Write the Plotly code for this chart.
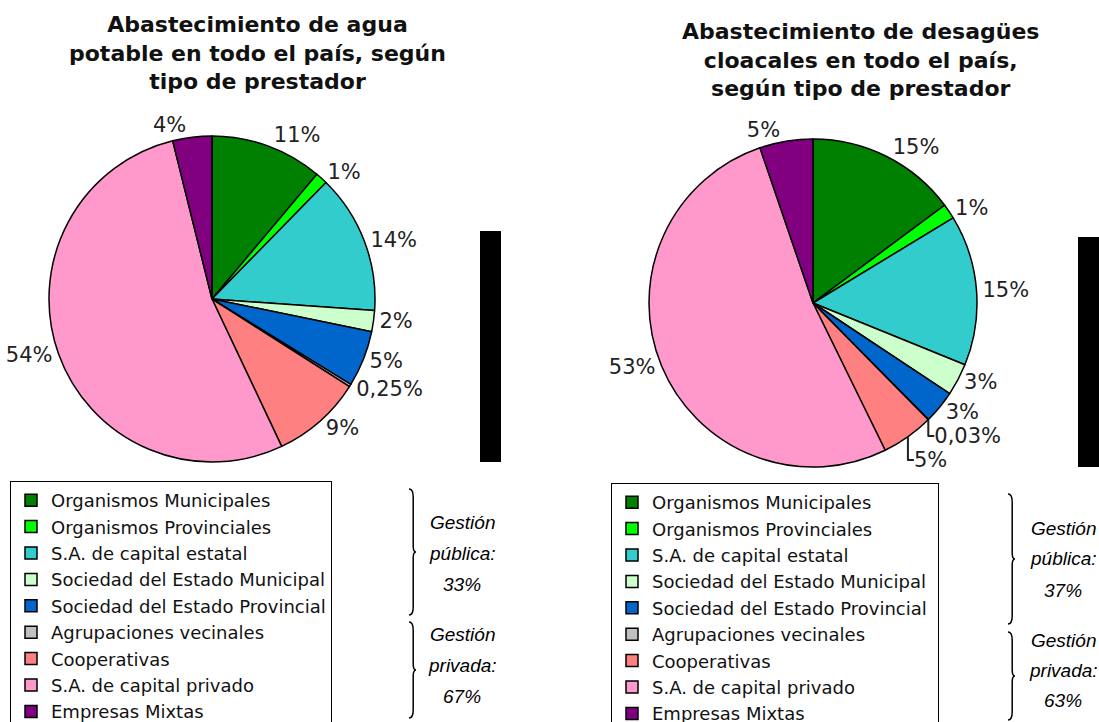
import plotly.graph_objects as go

W, H = 1099, 722

TIPOS = [
    "Organismos Municipales",
    "Organismos Provinciales",
    "S.A. de capital estatal",
    "Sociedad del Estado Municipal",
    "Sociedad del Estado Provincial",
    "Agrupaciones vecinales",
    "Cooperativas",
    "S.A. de capital privado",
    "Empresas Mixtas",
]
COLORES = ["#008000", "#00ff00", "#33cccc", "#ccffcc", "#0066cc",
           "#c0c0c0", "#ff8080", "#ff99cc", "#800080"]

# agua potable
AGUA_VALORES = [11.2, 1.2, 13.9, 2.1, 5.6, 0.25, 9.0, 53.5, 3.9]
AGUA_TEXTOS = ["11%", "1%", "14%", "2%", "5%", "0,25%", "9%", "54%", "4%"]
AGUA_GESTION = [["Gestión", "pública:", "33%"], ["Gestión", "privada:", "67%"]]

# desagües cloacales
CLOACA_VALORES = [15.0, 1.5, 15.0, 3.2, 3.3, 0.03, 5.2, 52.6, 5.3]
CLOACA_TEXTOS = ["15%", "1%", "15%", "3%", "3%", "0,03%", "5%", "53%", "5%"]
CLOACA_GESTION = [["Gestión", "pública:", "37%"], ["Gestión", "privada:", "63%"]]

TITULO_AGUA = "Abastecimiento de agua<br>potable en todo el país, según<br>tipo de prestador"
TITULO_CLOACA = "Abastecimiento de desagües<br>cloacales en todo el país,<br>según tipo de prestador"


def px_x(x):
    return x / W


def px_y(y):
    return 1 - y / H


def brace_path(x0, y0, y1, w=7):
    """Right-facing curly brace between pixel rows y0 and y1."""
    ym = (y0 + y1) / 2
    xm = x0 + w * 0.6
    pts = [
        f"M {px_x(x0)} {px_y(y0)}",
        f"Q {px_x(xm)} {px_y(y0)} {px_x(xm)} {px_y(y0 + 8)}",
        f"L {px_x(xm)} {px_y(ym - 6)}",
        f"Q {px_x(xm)} {px_y(ym)} {px_x(x0 + w)} {px_y(ym)}",
        f"Q {px_x(xm)} {px_y(ym)} {px_x(xm)} {px_y(ym + 6)}",
        f"L {px_x(xm)} {px_y(y1 - 8)}",
        f"Q {px_x(xm)} {px_y(y1)} {px_x(x0)} {px_y(y1)}",
    ]
    return " ".join(pts)


def pie(labels, values, texts, domain, legend):
    return go.Pie(
        labels=labels, values=values, text=texts,
        textinfo="text", textposition="outside",
        textfont=dict(family="DejaVu Sans", size=21, color="#222222"),
        marker=dict(colors=COLORES, line=dict(color="#000000", width=1.5)),
        sort=False, direction="clockwise", rotation=0,
        domain=domain, legend=legend, hoverinfo="label+value",
    )


fig = go.Figure()
fig.add_trace(pie(TIPOS, AGUA_VALORES, AGUA_TEXTOS,
                  dict(x=[px_x(49), px_x(375)], y=[px_y(462), px_y(136)]), "legend"))
# trailing space keeps the second pie's entries separate so legend2 gets its own items
fig.add_trace(pie([t + " " for t in TIPOS], CLOACA_VALORES, CLOACA_TEXTOS,
                  dict(x=[px_x(649), px_x(977)], y=[px_y(467), px_y(139)]), "legend2"))

legend_style = dict(
    font=dict(family="DejaVu Sans", size=18, color="#111111"),
    bgcolor="#ffffff", bordercolor="#000000", borderwidth=1,
    xanchor="left", yanchor="top", itemwidth=30, traceorder="normal",
)

annotations = [
    dict(text=f"<b>{TITULO_AGUA}</b>", x=px_x(257), y=px_y(10), yanchor="top"),
    dict(text=f"<b>{TITULO_CLOACA}</b>", x=px_x(860), y=px_y(17), yanchor="top"),
]
for a in annotations:
    a.update(xref="paper", yref="paper", showarrow=False, xanchor="center",
             font=dict(family="DejaVu Sans", size=22, color="#111111"))

for gestion, cx, ys in [(AGUA_GESTION, 462, [[522, 553, 584], [634, 665, 696]]),
                        (CLOACA_GESTION, 1063, [[528, 558, 590], [640, 670, 700]])]:
    for lineas, yy in zip(gestion, ys):
        for linea, y in zip(lineas, yy):
            annotations.append(dict(
                text=f"<i>{linea}</i>", x=px_x(cx), y=px_y(y),
                xref="paper", yref="paper", showarrow=False,
                xanchor="center", yanchor="middle",
                font=dict(family="Liberation Sans", size=19, color="#000000"),
            ))

shapes = []
for x0, x1, y0, y1 in [(480, 501, 231, 462), (1078, 1099, 237, 467)]:
    shapes.append(dict(type="rect", xref="paper", yref="paper",
                       x0=px_x(x0), x1=px_x(x1), y0=px_y(y1), y1=px_y(y0),
                       fillcolor="#000000", line=dict(width=0)))
for x0, y0, y1 in [(409, 489, 615), (409, 622, 718), (1008, 494, 624), (1008, 632, 720)]:
    shapes.append(dict(type="path", xref="paper", yref="paper",
                       path=brace_path(x0, y0, y1),
                       line=dict(color="#000000", width=1.5)))

fig.update_layout(
    width=W, height=H,
    margin=dict(l=0, r=0, t=0, b=0, autoexpand=False),
    paper_bgcolor="#ffffff", plot_bgcolor="#ffffff",
    legend=dict(x=px_x(10), y=px_y(481), **legend_style),
    legend2=dict(x=px_x(611), y=px_y(483), **legend_style),
    annotations=annotations,
    shapes=shapes,
)

# drop the default body margin so the figure sits at the page corner
fig.write_html("out.html", config={"displayModeBar": False},
               post_script="document.body.style.margin = '0';")
